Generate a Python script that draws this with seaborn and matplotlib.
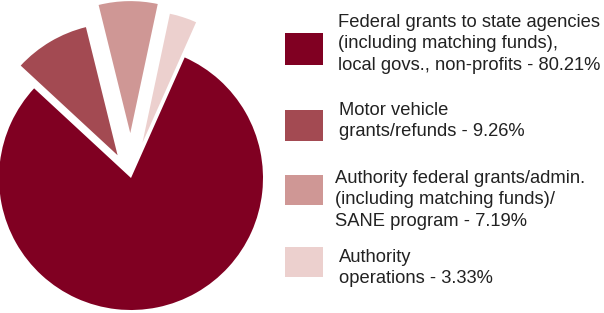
import matplotlib
matplotlib.use("Agg")
import matplotlib.pyplot as plt
from matplotlib.patches import Rectangle
import seaborn as sns

labels = [
    "Federal grants to state agencies\n(including matching funds),\nlocal govs., non-profits - 80.21%",
    "Motor vehicle\ngrants/refunds - 9.26%",
    "Authority federal grants/admin.\n(including matching funds)/\nSANE program - 7.19%",
    "Authority\noperations - 3.33%",
]
shares = [80.21, 9.26, 7.19, 3.33]
colors = ["#800022", "#a34a52", "#cf9795", "#ecd0ce"]
explode = [0.0, 0.2, 0.34, 0.28]

sns.set_style("white")
plt.rcParams["font.family"] = ["Liberation Sans", "DejaVu Sans"]

fig = plt.figure(figsize=(6.04, 3.13), dpi=100)
W, H = 604, 313

# pie axes: 0..270 px wide, full height, 132 px per unit
ax = fig.add_axes([0, 0, 270 / W, 1])
ax.pie(shares, colors=sns.color_palette(colors), explode=explode,
       startangle=66, counterclock=False, radius=1.0,
       wedgeprops=dict(linewidth=0))
ax.set_xlim(-131 / 132, (270 - 131) / 132)
ax.set_ylim(-135 / 132, 178 / 132)
ax.set_aspect("auto")
ax.axis("off")

# legend drawn by hand
box_top = [33, 110, 175, 247]
box_h = [32, 31, 30, 30]
text_y = [44, 121, 200, 268]
text_x = [338, 339, 335, 339]
for i, lab in enumerate(labels):
    y0 = H - box_top[i] - box_h[i]
    fig.add_artist(Rectangle((285 / W, y0 / H), 38 / W, box_h[i] / H,
                             transform=fig.transFigure, color=colors[i], lw=0))
    fig.text(text_x[i] / W, 1 - text_y[i] / H, lab, ha="left", va="center",
             fontsize=13.2, color="#222222", linespacing=1.35)

fig.savefig("out.png", dpi=100)
